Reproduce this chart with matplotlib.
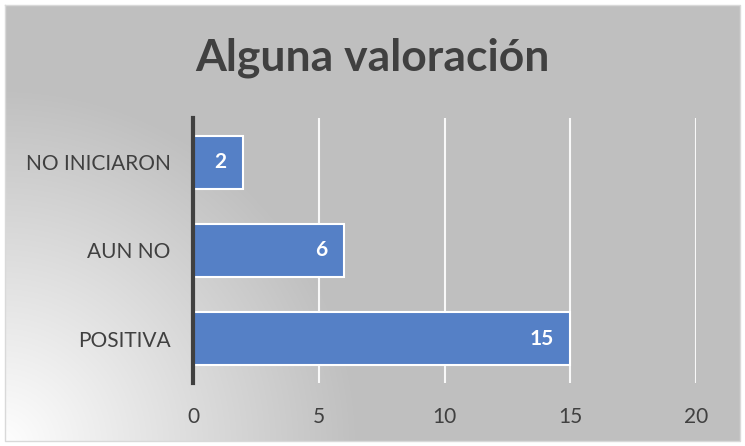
import matplotlib.pyplot as plt
import numpy as np

categories = ['POSITIVA', 'AUN NO', 'NO INICIARON']
values = [15, 6, 2]
xticks = [0, 5, 10, 15, 20]

plt.rcParams['font.family'] = ['Lato', 'DejaVu Sans']

fig = plt.figure(figsize=(7.45, 4.46), dpi=100)

# background: radial gradient from bottom-left corner
bg = fig.add_axes([0, 0, 1, 1], zorder=0)
W, H = 745, 446
xx, yy = np.meshgrid(np.arange(W), np.arange(H))
d = np.sqrt(xx ** 2 + (H - yy) ** 2)
g = 255 - (255 - 191) * np.clip(d / 360.0, 0, 1)
img = np.dstack([g, g, g]).astype(np.uint8)
img[:5, :] = 255
img[-5:, :] = 255
img[:, :5] = 255
img[:, -5:] = 255
bg.imshow(img, aspect='auto', extent=[0, W, H, 0])
bg.plot([5, W - 5, W - 5, 5, 5], [5, 5, H - 5, H - 5, 5], color='#d9d9d9', lw=1)
bg.set_xlim(0, W)
bg.set_ylim(H, 0)
bg.axis('off')

ax = fig.add_axes([193 / W, 1 - 383 / H, (696 - 193) / W, (383 - 118) / H], zorder=1)
ax.patch.set_alpha(0)
y = np.arange(len(categories))
bars = ax.barh(y, values, height=0.6, color='#5580c6', edgecolor='white', linewidth=1.5, zorder=3)
ax.set_xlim(0, 20)
ax.set_ylim(-0.5, 2.5)
ax.set_xticks(xticks)
ax.set_yticks(y)
ax.set_yticklabels(categories)
for xt in xticks[1:]:
    ax.axvline(xt, color='white', lw=1.5, zorder=1, alpha=0.9)
for s in ['top', 'right', 'bottom']:
    ax.spines[s].set_visible(False)
ax.spines['left'].set_color('#404040')
ax.spines['left'].set_linewidth(3)
ax.spines['left'].set_zorder(4)
ax.tick_params(axis='both', length=0, labelsize=15, colors='#404040')
ax.tick_params(axis='x', pad=17)
ax.tick_params(axis='y', pad=16)

for b, v in zip(bars, values):
    ax.annotate(str(v), (v, b.get_y() + b.get_height() / 2), xytext=(-12, 0),
                textcoords='offset points', ha='right', va='center',
                color='white', fontsize=15, fontweight='bold', zorder=5)

fig.text(0.5, 1 - 58 / H, 'Alguna valoración', ha='center', va='center',
         fontsize=32, fontweight='bold', color='#404040')

fig.savefig('out.png', dpi=100)
